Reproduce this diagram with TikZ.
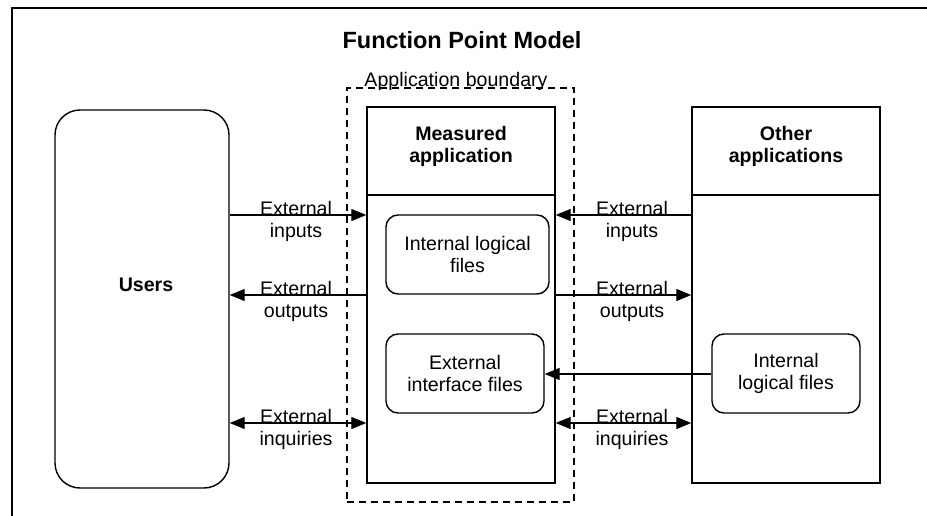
\documentclass[tikz,border=0pt]{standalone}
\usepackage{fontspec}
\setmainfont{Liberation Sans}
\usetikzlibrary{arrows.meta}
\begin{document}
\begin{tikzpicture}[x=1pt,y=-1pt,
  every node/.style={font=\fontsize{19.6}{22}\selectfont, inner sep=0pt},
  box/.style={draw, line width=1.4pt, minimum width=#1, minimum height=376pt},
  filebox/.style={draw, line width=1.4pt, rounded corners=12pt, minimum height=79pt, align=center},
  lbl/.style={align=center},
  flow/.style={line width=1.3pt, -{Triangle[length=15pt,width=12pt]}},
  flow2/.style={line width=1.3pt, {Triangle[length=15pt,width=12pt]}-{Triangle[length=15pt,width=12pt]}},
  bold/.style={font=\fontsize{19.6}{22}\selectfont\bfseries, align=center}]
\useasboundingbox (0,0) rectangle (927,516);
\fill[white] (0,0) rectangle (927,516);
% outer frame
\coordinate (fbl) at (12,516);
\coordinate (ftl) at (12,8);
\coordinate (ftr) at (927,8);
\draw[line width=1.3pt] (fbl) -- (ftl) -- (ftr);
% title
\node[font=\fontsize{23.5}{26}\selectfont\bfseries] (title) at (462,40) {Function Point Model};
% application boundary
\node[draw, dash pattern=on 7pt off 5pt, line width=1.3pt, minimum width=227pt, minimum height=414pt] (bound) at (460.5,295) {};
\node (boundlbl) at (456,81) {Application boundary};
% users
\node[draw, line width=1.4pt, rounded corners=25pt, minimum width=174pt, minimum height=378pt] (users) at (142,299) {};
\node[bold] (userslbl) at (146,285) {Users};
% measured application
\node[box=188pt] (meas) at (461,295) {};
\coordinate (mdiv) at (461,195);
\draw[line width=1.4pt] (meas.west |- mdiv) -- (meas.east |- mdiv);
\node[bold] (measlbl) at (461,146) {Measured\\application};
% other applications
\node[box=188pt] (other) at (786,295) {};
\draw[line width=1.4pt] (other.west |- mdiv) -- (other.east |- mdiv);
\node[bold] (otherlbl) at (786,146) {Other\\applications};
% file boxes
\node[filebox, minimum width=163pt] (ilf1) at (467.5,254.5) {Internal logical\\files};
\node[filebox, minimum width=158pt] (eif) at (465,373.5) {External\\interface files};
\node[filebox, minimum width=148pt] (ilf2) at (786,373.5) {Internal\\logical files};
% flow levels
\coordinate (yin) at (0,215);
\coordinate (yout) at (0,295);
\coordinate (yeif) at (0,374);
\coordinate (yinq) at (0,423);
% left flows
\draw[flow] (users.east |- yin) -- (meas.west |- yin);
\draw[flow] (meas.west |- yout) -- (users.east |- yout);
\draw[flow2] (users.east |- yinq) -- (meas.west |- yinq);
\node[lbl] at (296,221) {External\\inputs};
\node[lbl] at (296,301) {External\\outputs};
\node[lbl] at (296,429) {External\\inquiries};
% right flows
\draw[flow] (other.west |- yin) -- (meas.east |- yin);
\draw[flow] (meas.east |- yout) -- (other.west |- yout);
\draw[flow] (ilf2.west |- yeif) -- (eif.east |- yeif);
\draw[flow2] (meas.east |- yinq) -- (other.west |- yinq);
\node[lbl] at (632,221) {External\\inputs};
\node[lbl] at (632,301) {External\\outputs};
\node[lbl] at (632,429) {External\\inquiries};
\end{tikzpicture}
\end{document}
